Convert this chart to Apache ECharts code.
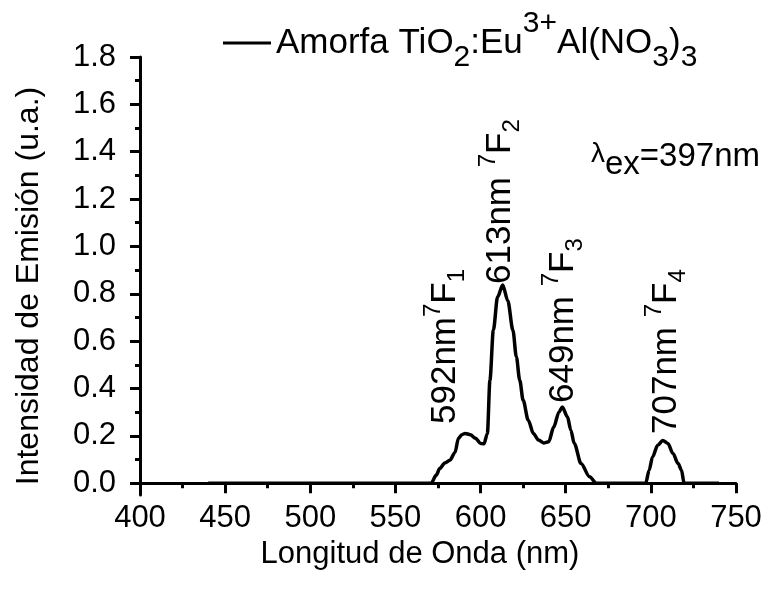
<!DOCTYPE html>
<html>
	<head>
		<meta charset="UTF-8">
		<title>Espectro de emisión</title>
		<style>
			html, body { margin: 0; padding: 0; background: #fff; }
			#espectro { width: 771px; height: 590px; }
		</style>
	</head>
	<body>
		<div id="espectro"></div>

		<script type="text/javascript" src="https://cdn.jsdelivr.net/npm/echarts@6.0.0/dist/echarts.min.js"></script>
		<script>
			// datos
			var longitud = [440, 571, 574, 576, 579, 582, 585, 587, 589, 591, 594, 597, 600, 602, 604, 605.5, 607.5, 610, 613, 616,
				619, 621, 623, 625, 628, 631, 634, 637, 640, 643, 646, 648, 651, 653, 655, 659, 664, 668, 697, 699,
				701, 704, 707, 710, 713, 716, 718, 719.5, 740];
			var intensidad = [0, 0, 0.034, 0.062, 0.085, 0.097, 0.13, 0.19, 0.205, 0.21, 0.205, 0.19, 0.168, 0.166, 0.21, 0.435, 0.646, 0.787, 0.837, 0.77,
				0.646, 0.534, 0.435, 0.35, 0.266, 0.21, 0.182, 0.17, 0.175, 0.238, 0.30, 0.322, 0.28, 0.224, 0.168, 0.083, 0.027, 0, 0, 0.055,
				0.111, 0.16, 0.18, 0.168, 0.125, 0.083, 0.055, 0, 0];

			// marcas del eje y
			var yMayores = [0, 0.2, 0.4, 0.6, 0.8, 1.0, 1.2, 1.4, 1.6, 1.8];
			var yMenores = [0.1, 0.3, 0.5, 0.7, 0.9, 1.1, 1.3, 1.5, 1.7];

			var fuente = 'Liberation Sans, Arial, sans-serif';
			var negro = '#000';

			// estilos de subindice / superindice
			function estilos(grande, chico, alto, subArriba) {
				return {
					m: { fontSize: grande, fontFamily: fuente, color: negro, lineHeight: alto, verticalAlign: 'middle' },
					sup: { fontSize: chico, fontFamily: fuente, color: negro, lineHeight: chico, verticalAlign: 'top' },
					sub: { fontSize: chico, fontFamily: fuente, color: negro, lineHeight: chico, verticalAlign: 'bottom',
						padding: [0, 0, subArriba || 0, 0] }
				};
			}

			// etiquetas verticales de las transiciones
			function etiqueta(texto, x, y) {
				return {
					type: 'text',
					x: x,
					y: y,
					rotation: Math.PI / 2,
					style: {
						text: texto,
						rich: estilos(35, 24, 48),
						align: 'left',
						verticalAlign: 'middle'
					}
				};
			}

			var grafico = echarts.init(document.getElementById('espectro'));

			var datos = [];
			for (var i = 0; i < longitud.length; i++) {
				datos.push([longitud[i], intensidad[i]]);
			}

			var option = {
				backgroundColor: '#fff',
				animation: false,
				grid: { left: 140, right: 35, top: 57, bottom: 95 },
				legend: {
					left: 218,
					top: 4,
					icon: 'rect',
					itemWidth: 48,
					itemHeight: 3,
					formatter: function () {
						return '{m|Amorfa TiO}{sub|2}{m|:Eu}{sup|3+}{m|Al(NO}{sub|3}{m|)}{sub|3}';
					},
					textStyle: { rich: estilos(35, 30, 68, 4) }
				},
				xAxis: {
					type: 'value',
					min: 400,
					max: 750,
					interval: 50,
					name: 'Longitud de Onda (nm)',
					nameLocation: 'middle',
					nameGap: 40,
					nameTextStyle: { fontSize: 31, fontFamily: fuente, color: negro, padding: [0, 36, 0, 0] },
					axisLine: { lineStyle: { color: negro, width: 3 } },
					axisTick: { inside: false, length: 10, lineStyle: { color: negro, width: 3 } },
					minorTick: { show: true, splitNumber: 2, length: 5, lineStyle: { color: negro, width: 3 } },
					axisLabel: { fontSize: 31, fontFamily: fuente, color: negro, margin: 8 },
					splitLine: { show: false }
				},
				yAxis: [{
					type: 'value',
					min: -0.05,
					max: 1.8,
					name: 'Intensidad de Emisión (u.a.)',
					nameLocation: 'middle',
					nameGap: 95,
					nameTextStyle: { fontSize: 32, fontFamily: fuente, color: negro, padding: [0, 20, 0, 0] },
					axisLine: { show: true, lineStyle: { color: negro, width: 3 } },
					axisTick: { show: true, inside: false, length: 10, customValues: yMayores, lineStyle: { color: negro, width: 3 } },
					axisLabel: {
						fontSize: 31, fontFamily: fuente, color: negro, margin: 24,
						customValues: yMayores,
						formatter: function (v) { return v.toFixed(1); }
					},
					splitLine: { show: false }
				}, {
					// segundo eje solo para las marcas menores
					type: 'value',
					min: -0.05,
					max: 1.8,
					position: 'left',
					axisLine: { show: false },
					axisTick: { show: true, inside: false, length: 5, customValues: yMenores, lineStyle: { color: negro, width: 3 } },
					axisLabel: { show: false },
					splitLine: { show: false }
				}],
				series: [{
					name: 'Amorfa',
					type: 'line',
					data: datos,
					symbol: 'none',
					smooth: 0.3,
					smoothMonotone: 'x',
					lineStyle: { color: negro, width: 3.5 },
					itemStyle: { color: negro }
				}],
				graphic: [
					etiqueta('{m|592nm}{sup|7}{m|F}{sub|1}', 445, 424),
					etiqueta('{m|613nm }{sup|7}{m|F}{sub|2}', 500, 284),
					etiqueta('{m|649nm }{sup|7}{m|F}{sub|3}', 563, 403),
					etiqueta('{m|707nm }{sup|7}{m|F}{sub|4}', 666, 434),
					{
						type: 'text',
						x: 591,
						y: 157,
						style: {
							text: '{l|λ}{e|ex}{m|=397nm}',
							rich: {
								l: { fontSize: 28, fontFamily: fuente, color: negro, lineHeight: 28, verticalAlign: 'middle', padding: [0, 0, 5, 0] },
								e: { fontSize: 33, fontFamily: fuente, color: negro, lineHeight: 33, verticalAlign: 'bottom' },
								m: { fontSize: 33, fontFamily: fuente, color: negro, lineHeight: 48, verticalAlign: 'middle' }
							},
							align: 'left',
							verticalAlign: 'middle'
						}
					}
				]
			};

			grafico.setOption(option);
		</script>
	</body>
</html>
